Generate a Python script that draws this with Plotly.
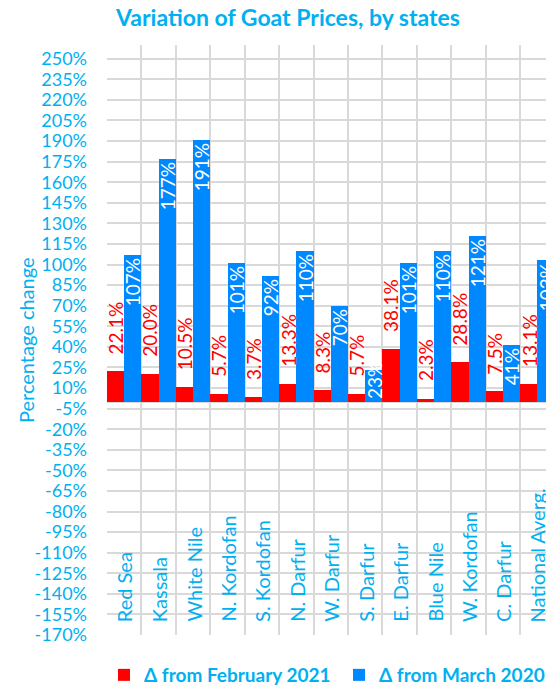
import plotly.graph_objects as go

states = ["Red Sea", "Kassala", "White Nile", "N. Kordofan", "S. Kordofan", "N. Darfur",
          "W. Darfur", "S. Darfur", "E. Darfur", "Blue Nile", "W. Kordofan", "C. Darfur",
          "National Averg."]
from_feb_2021 = [22.1, 20.0, 10.5, 5.7, 3.7, 13.3, 8.3, 5.7, 38.1, 2.3, 28.8, 7.5, 13.1]
from_mar_2020 = [107, 177, 191, 101, 92, 110, 70, 23, 101, 110, 121, 41, 103]
y_ticks = list(range(-170, 251, 15))
y_tick_labels = [f"{t}%" for t in y_ticks]

BLUE_TXT = "#00B0F0"
FONT = "Lato"

# the S. Darfur bar is too short for its label; it is drawn from the bar's base instead
short_idx = states.index("S. Darfur")
blue_pos = ["none" if i == short_idx else "inside" for i in range(len(states))]

fig = go.Figure()
fig.add_bar(
    x=states, y=from_feb_2021, name="Δ from February 2021",
    marker_color="#FF0000", marker_line_width=0, legend="legend",
)
fig.add_bar(
    x=states, y=from_mar_2020, name="Δ from March 2020",
    marker_color="#0088FF", marker_line_width=0, legend="legend2",
    text=[f"{v}%" for v in from_mar_2020], textposition=blue_pos,
    insidetextanchor="end", textangle=-90, constraintext="none",
    textfont=dict(color="white", size=19, family=FONT),
)
fig.add_annotation(
    x=states[short_idx], y=0, text=f"{from_mar_2020[short_idx]}%", textangle=-90,
    showarrow=False, xanchor="center", yanchor="bottom", xshift=8.6, yshift=1,
    font=dict(color="white", size=19, family=FONT),
)

# red labels sit above their bars, rotated
for s, v in zip(states, from_feb_2021):
    fig.add_annotation(
        x=s, y=v, text=f"{v:.1f}%", textangle=-90, showarrow=False,
        xanchor="center", yanchor="bottom", xshift=-8.6, yshift=15,
        font=dict(color="#FF0000", size=19, family=FONT),
    )

# category names inside the plot, along the bottom
for s in states:
    fig.add_annotation(
        x=s, y=-170, text=s, textangle=-90, showarrow=False,
        xanchor="center", yanchor="bottom", yshift=11,
        font=dict(color=BLUE_TXT, size=20, family=FONT),
    )

# y axis title
fig.add_annotation(
    xref="paper", yref="paper", x=0, y=0.5, xshift=-81, textangle=-90,
    text="Percentage change", showarrow=False, xanchor="center", yanchor="middle",
    font=dict(size=20, color=BLUE_TXT, family=FONT),
)

leg_style = dict(orientation="h", xanchor="left", yanchor="middle",
                 xref="container", yref="container", y=16 / 691, itemwidth=30,
                 font=dict(size=19, color=BLUE_TXT, family=FONT, weight="bold"))

fig.update_layout(
    width=546, height=691,
    paper_bgcolor="white", plot_bgcolor="white",
    barmode="group", bargap=0, bargroupgap=0,
    margin=dict(l=107, r=0, t=45, b=56, autoexpand=False),
    font=dict(family=FONT, color=BLUE_TXT),
    title=dict(text="<b>Variation of Goat Prices, by states</b>", x=288 / 546, xanchor="center",
               y=1 - 18 / 691, yanchor="middle", font=dict(size=23, color=BLUE_TXT, family=FONT)),
    legend=dict(x=104 / 546, **leg_style),
    legend2=dict(x=339 / 546, **leg_style),
    showlegend=True,
)
fig.update_xaxes(
    range=[-0.5, 12.25], showticklabels=False, tickson="boundaries", automargin=False,
    showgrid=True, gridcolor="#D9D9D9", gridwidth=1.5, showline=False, ticks="",
)
fig.update_yaxes(
    range=[-170, 260], tickvals=y_ticks, ticktext=y_tick_labels, automargin=False,
    showgrid=True, gridcolor="#D9D9D9", gridwidth=1.5,
    zeroline=True, zerolinecolor="#D9D9D9", zerolinewidth=1.5,
    tickfont=dict(size=18, color=BLUE_TXT, family=FONT), ticklabelstandoff=19,
)

fig.write_html("out.html", config={"displayModeBar": False},
               post_script="document.body.style.margin='0';")
